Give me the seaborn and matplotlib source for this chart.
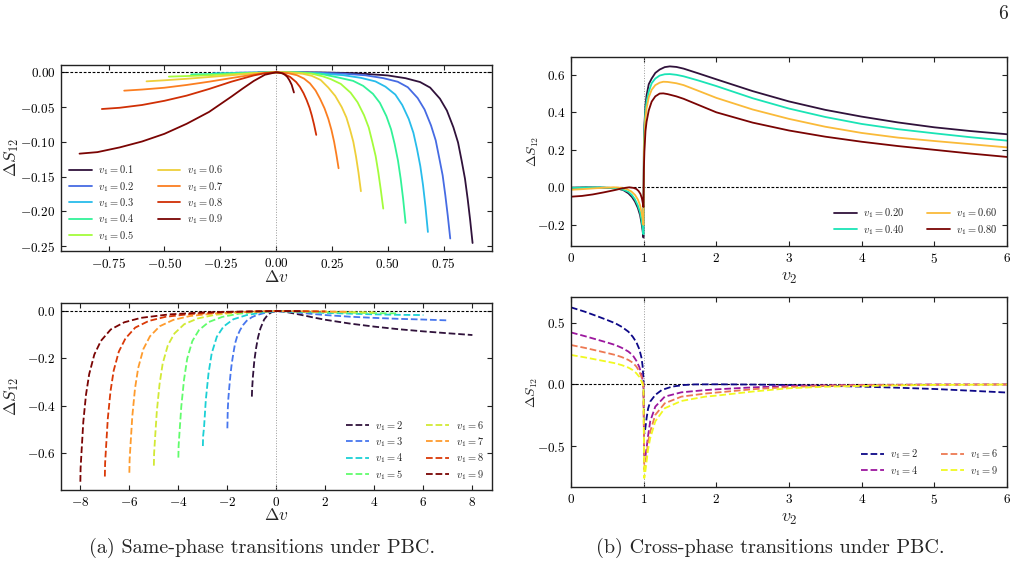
import numpy as np
import matplotlib
matplotlib.use("Agg")
import matplotlib.pyplot as plt
from matplotlib.ticker import MultipleLocator
import seaborn as sns

# ---------------- data: top-left (same phase, v1 < 1) ----------------
tl_v1 = [0.1, 0.2, 0.3, 0.4, 0.5, 0.6, 0.7, 0.8, 0.9]
tl_dv = [
    [-0.08, -0.04, 0, 0.1, 0.2, 0.35, 0.5, 0.58, 0.645, 0.69, 0.734, 0.765, 0.794, 0.815, 0.831, 0.846, 0.858, 0.869, 0.88],
    [-0.18, -0.1, 0, 0.1, 0.2, 0.3, 0.4, 0.48, 0.545, 0.59, 0.634, 0.665, 0.694, 0.715, 0.731, 0.746, 0.758, 0.769, 0.78],
    [-0.28, -0.2, -0.1, 0, 0.1, 0.2, 0.3, 0.38, 0.445, 0.49, 0.534, 0.565, 0.594, 0.615, 0.631, 0.646, 0.658, 0.669, 0.68],
    [-0.38, -0.3, -0.2, -0.1, 0, 0.1, 0.2, 0.28, 0.345, 0.39, 0.434, 0.465, 0.494, 0.515, 0.531, 0.546, 0.558, 0.569, 0.58],
    [-0.48, -0.4, -0.3, -0.2, -0.1, 0, 0.08, 0.16, 0.21, 0.245, 0.29, 0.334, 0.365, 0.394, 0.415, 0.431, 0.446, 0.458, 0.469, 0.48],
    [-0.58, -0.5, -0.4, -0.3, -0.2, -0.1, 0, 0.06, 0.12, 0.16, 0.2, 0.234, 0.265, 0.294, 0.315, 0.331, 0.346, 0.358, 0.369, 0.38],
    [-0.68, -0.6, -0.5, -0.4, -0.3, -0.2, -0.1, -0.05, 0, 0.05, 0.093, 0.125, 0.152, 0.177, 0.197, 0.217, 0.234, 0.248, 0.26, 0.27, 0.28],
    [-0.78, -0.7, -0.6, -0.5, -0.4, -0.3, -0.2, -0.1, -0.05, 0, 0.03, 0.063, 0.09, 0.107, 0.123, 0.137, 0.15, 0.16, 0.17, 0.18],
    [-0.88, -0.8, -0.7, -0.6, -0.5, -0.4, -0.3, -0.2, -0.15, -0.1, -0.05, 0, 0.01, 0.02, 0.03, 0.04, 0.05, 0.06, 0.07, 0.08],
]
tl_ds = [
    [-0.0002, -0.00008, 0, -0.00005, -0.0002, -0.0012, -0.0045, -0.0085, -0.014, -0.022, -0.038, -0.055, -0.079, -0.101, -0.127, -0.153, -0.182, -0.212, -0.2455],
    [-0.0006, -0.0003, 0, -0.0002, -0.0007, -0.0019, -0.0043, -0.0084, -0.0136, -0.0215, -0.037, -0.0535, -0.0765, -0.098, -0.1236, -0.1482, -0.1769, -0.2065, -0.239],
    [-0.0014, -0.001, -0.0005, 0, -0.0002, -0.0018, -0.0041, -0.008, -0.0131, -0.0207, -0.032, -0.047, -0.067, -0.087, -0.11, -0.135, -0.162, -0.193, -0.2296],
    [-0.003, -0.0025, -0.0016, -0.0007, 0, -0.0002, -0.0022, -0.0076, -0.0123, -0.0195, -0.031, -0.044, -0.063, -0.082, -0.103, -0.127, -0.153, -0.182, -0.2166],
    [-0.0062, -0.0054, -0.0042, -0.0027, -0.0011, 0, -0.0002, -0.002, -0.0059, -0.0098, -0.0167, -0.0294, -0.0431, -0.0617, -0.0794, -0.1, -0.1205, -0.1441, -0.169, -0.196],
    [-0.013, -0.0115, -0.0093, -0.0068, -0.0042, -0.0015, 0, -0.0003, -0.0022, -0.0051, -0.0111, -0.022, -0.034, -0.05, -0.065, -0.082, -0.1, -0.121, -0.144, -0.171],
    [-0.0264, -0.0248, -0.0222, -0.0182, -0.0135, -0.0083, -0.0032, -0.001, 0, -0.001, -0.0041, -0.009, -0.016, -0.0262, -0.038, -0.0518, -0.0669, -0.0828, -0.1, -0.118, -0.138],
    [-0.0528, -0.051, -0.047, -0.041, -0.0335, -0.024, -0.0135, -0.0045, -0.0013, 0, -0.0014, -0.0067, -0.014, -0.021, -0.030, -0.040, -0.051, -0.062, -0.075, -0.090],
    [-0.117, -0.1148, -0.108, -0.0995, -0.0885, -0.074, -0.057, -0.035, -0.0235, -0.0125, -0.0035, 0, -0.0002, -0.0008, -0.0018, -0.0036, -0.0065, -0.0115, -0.018, -0.029],
]

# ---------------- data: bottom-left (same phase, v1 > 1) ----------------
bl_v1 = [2, 3, 4, 5, 6, 7, 8, 9]
bl_dv = [
    [-1, -0.99, -0.96, -0.9, -0.83, -0.75, -0.65, -0.5, -0.35, -0.2, 0, 0.25, 0.5, 1, 1.5, 2, 3, 4, 5, 6, 7, 8],
    [-2, -1.985, -1.96, -1.92, -1.87, -1.82, -1.75, -1.685, -1.6, -1.48, -1.35, -1.21, -1.0, -0.8, -0.4, 0, 0.5, 1, 2, 3, 4, 5, 6, 7],
    [-3, -2.99, -2.95, -2.88, -2.77, -2.64, -2.43, -2.16, -1.76, -1.21, -0.53, 0, 1, 2, 3, 4, 5, 6],
    [-4, -3.99, -3.95, -3.88, -3.77, -3.64, -3.43, -3.16, -2.76, -2.21, -1.53, -0.8, 0, 1, 2, 3, 4, 5],
    [-5, -4.99, -4.95, -4.88, -4.77, -4.64, -4.43, -4.16, -3.76, -3.21, -2.53, -1.7, -0.8, 0, 1, 2, 3, 4],
    [-6, -5.99, -5.95, -5.88, -5.77, -5.64, -5.43, -5.16, -4.76, -4.21, -3.53, -2.6, -1.5, -0.7, 0, 1, 2, 3],
    [-7, -6.99, -6.95, -6.88, -6.77, -6.64, -6.43, -6.16, -5.76, -5.21, -4.53, -3.5, -2.2, -1, 0, 1, 2],
    [-8, -7.99, -7.95, -7.88, -7.77, -7.64, -7.43, -7.16, -6.76, -6.21, -5.53, -4.4, -3, -1.5, 0, 0.5, 1],
]
bl_ds = [
    [-0.362, -0.330, -0.280, -0.210, -0.158, -0.112, -0.073, -0.036, -0.016, -0.005, 0, -0.002, -0.006, -0.016, -0.027, -0.037, -0.053, -0.066, -0.077, -0.086, -0.094, -0.1015],
    [-0.496, -0.419, -0.37, -0.32, -0.265, -0.221, -0.175, -0.137, -0.107, -0.08, -0.058, -0.041, -0.026, -0.017, -0.006, 0, -0.003, -0.008, -0.017, -0.024, -0.029, -0.033, -0.036, -0.0395],
    [-0.571, -0.53, -0.489, -0.376, -0.264, -0.179, -0.1085, -0.066, -0.035, -0.017, -0.0056, 0, -0.004, -0.008, -0.011, -0.014, -0.016, -0.017],
    [-0.62, -0.570, -0.508, -0.403, -0.291, -0.2015, -0.127, -0.0806, -0.0465, -0.0248, -0.0112, -0.0037, 0, -0.002, -0.005, -0.007, -0.009, -0.010],
    [-0.654, -0.602, -0.536, -0.425, -0.311, -0.222, -0.145, -0.0948, -0.0556, -0.0314, -0.0164, -0.0078, -0.0026, 0, -0.0015, -0.003, -0.0045, -0.006],
    [-0.684, -0.629, -0.561, -0.445, -0.328, -0.241, -0.161, -0.107, -0.0643, -0.0376, -0.0212, -0.0109, -0.0048, -0.0014, 0, -0.001, -0.002, -0.003],
    [-0.70, -0.644, -0.574, -0.455, -0.3395, -0.252, -0.1715, -0.116, -0.07, -0.042, -0.0245, -0.0126, -0.0056, -0.0021, 0, -0.0007, -0.0015],
    [-0.722, -0.664, -0.592, -0.469, -0.354, -0.267, -0.184, -0.126, -0.078, -0.0477, -0.0289, -0.0144, -0.0058, -0.0022, 0, -0.0002, -0.0005],
]

# ---------------- data: top-right (cross phase, v1 < 1) ----------------
tr_v1 = ["0.20", "0.40", "0.60", "0.80"]
tr_v2 = [
    [0, 0.2, 0.4, 0.55, 0.65, 0.72, 0.79, 0.84, 0.88, 0.92, 0.95, 0.97, 0.985, 0.997,
     1.003, 1.01, 1.025, 1.04, 1.07, 1.11, 1.16, 1.22, 1.29, 1.36, 1.45, 1.55, 1.75, 2.0, 2.5, 3.0, 3.5, 4.0, 4.5, 5.0, 5.5, 6.0],
    [0, 0.2, 0.4, 0.55, 0.65, 0.72, 0.79, 0.84, 0.88, 0.92, 0.95, 0.97, 0.985, 0.997,
     1.003, 1.01, 1.025, 1.04, 1.07, 1.11, 1.16, 1.22, 1.29, 1.36, 1.45, 1.55, 1.75, 2.0, 2.5, 3.0, 3.5, 4.0, 4.5, 5.0, 5.5, 6.0],
    [0, 0.15, 0.3, 0.45, 0.6, 0.7, 0.77, 0.83, 0.88, 0.92, 0.95, 0.97, 0.985, 0.997,
     1.003, 1.01, 1.025, 1.04, 1.07, 1.11, 1.16, 1.22, 1.27, 1.33, 1.45, 1.55, 1.75, 2.0, 2.5, 3.0, 3.5, 4.0, 4.5, 5.0, 5.5, 6.0],
    [0, 0.15, 0.3, 0.45, 0.6, 0.7, 0.8, 0.86, 0.9, 0.93, 0.955, 0.975, 0.99, 0.997,
     1.003, 1.01, 1.025, 1.04, 1.07, 1.11, 1.16, 1.22, 1.27, 1.33, 1.45, 1.55, 1.75, 2.0, 2.5, 3.0, 3.5, 4.0, 4.5, 5.0, 5.5, 6.0],
]
tr_ds = [
    [-0.002, 0, -0.001, -0.004, -0.008, -0.015, -0.032, -0.052, -0.076, -0.11, -0.148, -0.19, -0.23, -0.268,
     0.22, 0.33, 0.44, 0.49, 0.55, 0.58, 0.61, 0.628, 0.641, 0.645, 0.642, 0.633, 0.608, 0.576, 0.513, 0.458, 0.413, 0.377, 0.346, 0.32, 0.30, 0.283],
    [-0.003, -0.001, 0, -0.003, -0.007, -0.013, -0.024, -0.042, -0.064, -0.097, -0.132, -0.172, -0.212, -0.25,
     0.2, 0.31, 0.41, 0.457, 0.51, 0.555, 0.58, 0.596, 0.603, 0.604, 0.6, 0.592, 0.57, 0.54, 0.475, 0.42, 0.375, 0.338, 0.31, 0.288, 0.267, 0.249],
    [-0.013, -0.01, -0.006, -0.002, 0, -0.003, -0.01, -0.022, -0.04, -0.065, -0.095, -0.13, -0.165, -0.2,
     0.16, 0.26, 0.37, 0.42, 0.48, 0.52, 0.545, 0.558, 0.563, 0.562, 0.555, 0.545, 0.515, 0.477, 0.415, 0.365, 0.323, 0.29, 0.265, 0.247, 0.23, 0.213],
    [-0.05, -0.046, -0.038, -0.027, -0.015, -0.006, 0, -0.003, -0.009, -0.02, -0.035, -0.058, -0.088, -0.105,
     0.1, 0.19, 0.3, 0.35, 0.41, 0.457, 0.485, 0.5, 0.501, 0.497, 0.485, 0.472, 0.44, 0.40, 0.345, 0.303, 0.27, 0.243, 0.22, 0.2, 0.18, 0.162],
]

# ---------------- data: bottom-right (cross phase, v1 > 1) ----------------
br_v1 = [2, 4, 6, 9]
br_v2 = [
    [0, 0.19, 0.376, 0.5, 0.61, 0.7, 0.79, 0.85, 0.9, 0.94, 0.97, 0.985, 0.997,
     1.008, 1.02, 1.04, 1.06, 1.09, 1.16, 1.25, 1.39, 1.55, 1.7, 2.0, 2.5, 3.0, 3.5, 4.0, 4.5, 5.0, 5.5, 6.0],
    [0, 0.19, 0.376, 0.5, 0.61, 0.7, 0.79, 0.85, 0.9, 0.94, 0.97, 0.985, 0.997,
     1.008, 1.02, 1.04, 1.06, 1.09, 1.16, 1.29, 1.52, 1.85, 2.0, 2.5, 3.0, 3.5, 4.0, 5.0, 6.0],
    [0, 0.19, 0.376, 0.5, 0.61, 0.7, 0.79, 0.85, 0.9, 0.94, 0.97, 0.985, 0.997,
     1.008, 1.02, 1.04, 1.06, 1.09, 1.16, 1.29, 1.52, 1.85, 2.0, 2.5, 3.0, 3.5, 4.0, 5.0, 6.0],
    [0, 0.19, 0.376, 0.5, 0.61, 0.7, 0.79, 0.85, 0.9, 0.94, 0.97, 0.985, 0.997,
     1.008, 1.02, 1.04, 1.06, 1.09, 1.16, 1.29, 1.52, 1.85, 2.0, 2.5, 3.0, 3.5, 4.0, 5.0, 6.0],
]
br_ds = [
    [0.623, 0.588, 0.548, 0.52, 0.494, 0.465, 0.426, 0.385, 0.34, 0.285, 0.215, 0.15, 0.05,
     -0.40, -0.37, -0.275, -0.2, -0.14, -0.086, -0.046, -0.019, -0.006, -0.001, 0, -0.002, -0.006, -0.012, -0.019, -0.028, -0.038, -0.052, -0.067],
    [0.42, 0.39, 0.359, 0.338, 0.318, 0.295, 0.265, 0.235, 0.19, 0.14, 0.08, 0.04, -0.005,
     -0.63, -0.6, -0.518, -0.42, -0.30, -0.181, -0.10, -0.065, -0.047, -0.041, -0.025, -0.0135, -0.008, -0.005, -0.002, -0.001],
    [0.318, 0.295, 0.27, 0.253, 0.2375, 0.22, 0.197, 0.175, 0.143, 0.105, 0.06, 0.03, -0.005,
     -0.69, -0.65, -0.572, -0.47, -0.383, -0.248, -0.154, -0.10, -0.075, -0.067, -0.04, -0.022, -0.013, -0.008, -0.003, -0.002],
    [0.2375, 0.218, 0.197, 0.183, 0.17, 0.155, 0.135, 0.115, 0.089, 0.06, 0.025, 0.0, -0.02,
     -0.76, -0.72, -0.626, -0.53, -0.437, -0.30, -0.194, -0.135, -0.10, -0.092, -0.059, -0.032, -0.02, -0.0135, -0.005, -0.002],
]

# ---------------- styling ----------------
sns.set_theme(style="ticks")
plt.rcParams.update({
    "font.family": "serif",
    "font.serif": ["cmr10"],
    "mathtext.fontset": "cm",
    "axes.formatter.use_mathtext": True,
    "axes.unicode_minus": True,
    "axes.linewidth": 1.0,
    "axes.edgecolor": "#222222",
})

W, H = 1022, 567
fig = plt.figure(figsize=(W / 100, H / 100), dpi=100)
fig.patch.set_facecolor("white")


def add_ax(l, r, t, b):
    return fig.add_axes([l / W, 1 - b / H, (r - l) / W, (b - t) / H])


ax_tl = add_ax(61, 492, 65, 251)
ax_bl = add_ax(61, 492, 303, 490)
ax_tr = add_ax(571, 1007, 57, 246)
ax_br = add_ax(571, 1007, 297, 487)

turbo = plt.get_cmap("turbo")
plasma = plt.get_cmap("plasma")
LW = 1.3


def draw(ax, xs, ys, colors, labels, ls):
    for x, y, c, lab in zip(xs, ys, colors, labels):
        sns.lineplot(x=x, y=y, ax=ax, color=c, linewidth=LW, linestyle=ls,
                     label=lab, sort=False, estimator=None)


draw(ax_tl, tl_dv, tl_ds, turbo(np.linspace(0, 1, len(tl_v1))),
     [rf"$v_1 = {v}$" for v in tl_v1], "-")
draw(ax_bl, bl_dv, bl_ds, turbo(np.linspace(0, 1, len(bl_v1))),
     [rf"$v_1 = {v}$" for v in bl_v1], "--")
draw(ax_tr, tr_v2, tr_ds, turbo(np.linspace(0, 1, len(tr_v1))),
     [rf"$v_1 = {v}$" for v in tr_v1], "-")
draw(ax_br, br_v2, br_ds, plasma(np.linspace(0, 1, len(br_v1))),
     [rf"$v_1 = {v}$" for v in br_v1], "--")

for ax, vx in [(ax_tl, 0), (ax_bl, 0), (ax_tr, 1), (ax_br, 1)]:
    ax.axhline(0, color="black", lw=0.8, ls=(0, (2.5, 1.5)), zorder=1)
    ax.axvline(vx, color="#999999", lw=0.7, ls=":", zorder=1)
    ax.tick_params(direction="in", top=True, right=True, length=3.5, width=0.8,
                   labelsize=9.5, colors="#222222", labelcolor="black", pad=4)
    ax.set_facecolor("white")

ax_tl.set_xlim(-0.963, 0.967)
ax_tl.set_ylim(-0.257, 0.0105)
ax_bl.set_xlim(-8.79, 8.8)
ax_bl.set_ylim(-0.757, 0.034)
ax_tr.set_xlim(0, 6)
ax_tr.set_ylim(-0.313, 0.695)
ax_br.set_xlim(0, 6)
ax_br.set_ylim(-0.832, 0.707)

ax_tl.xaxis.set_major_locator(MultipleLocator(0.25))
ax_tl.yaxis.set_major_locator(MultipleLocator(0.05))
ax_bl.xaxis.set_major_locator(MultipleLocator(2))
ax_bl.yaxis.set_major_locator(MultipleLocator(0.2))
ax_tr.xaxis.set_major_locator(MultipleLocator(1))
ax_tr.yaxis.set_major_locator(MultipleLocator(0.2))
ax_br.xaxis.set_major_locator(MultipleLocator(1))
ax_br.yaxis.set_major_locator(MultipleLocator(0.5))

ax_tl.set_xlabel(r"$\Delta v$", fontsize=12.5, labelpad=-1)
ax_bl.set_xlabel(r"$\Delta v$", fontsize=12.5, labelpad=-1)
ax_tr.set_xlabel(r"$v_2$", fontsize=13, labelpad=4)
ax_br.set_xlabel(r"$v_2$", fontsize=13, labelpad=4)
ax_tl.set_ylabel(r"$\Delta S_{12}$", fontsize=12.5)
ax_bl.set_ylabel(r"$\Delta S_{12}$", fontsize=12.5)
ax_tr.set_ylabel(r"$\Delta S_{12}$", fontsize=10)
ax_br.set_ylabel(r"$\Delta S_{12}$", fontsize=10)
# ylabel anchor = right edge of the rotated text
ax_tl.yaxis.set_label_coords((21 - 61) / 431, 0.5)
ax_bl.yaxis.set_label_coords((21 - 61) / 431, 0.5)
ax_tr.yaxis.set_label_coords((541 - 571) / 436, 0.5)
ax_br.yaxis.set_label_coords((540 - 571) / 436, 0.5)

leg_kw = dict(ncol=2, frameon=False, fontsize=7.5, handlelength=2.2,
              handletextpad=0.6, columnspacing=2.2, labelspacing=0.25)
ax_tl.legend(loc="lower left", borderaxespad=0.4, **leg_kw)
ax_bl.legend(loc="lower right", borderaxespad=0.4, **leg_kw)
ax_tr.legend(loc="lower right", borderaxespad=0.5, **leg_kw)
ax_br.legend(loc="lower right", borderaxespad=0.5, **leg_kw)

fig.text(262 / W, 1 - 548 / H, "(a) Same-phase transitions under PBC.",
         ha="center", va="center", fontsize=14.5)
fig.text(770 / W, 1 - 548 / H, "(b) Cross-phase transitions under PBC.",
         ha="center", va="center", fontsize=14.5)
fig.text(1003 / W, 1 - 14 / H, "6", ha="center", va="center", fontsize=14)

fig.savefig("out.png", dpi=100, facecolor="white")
